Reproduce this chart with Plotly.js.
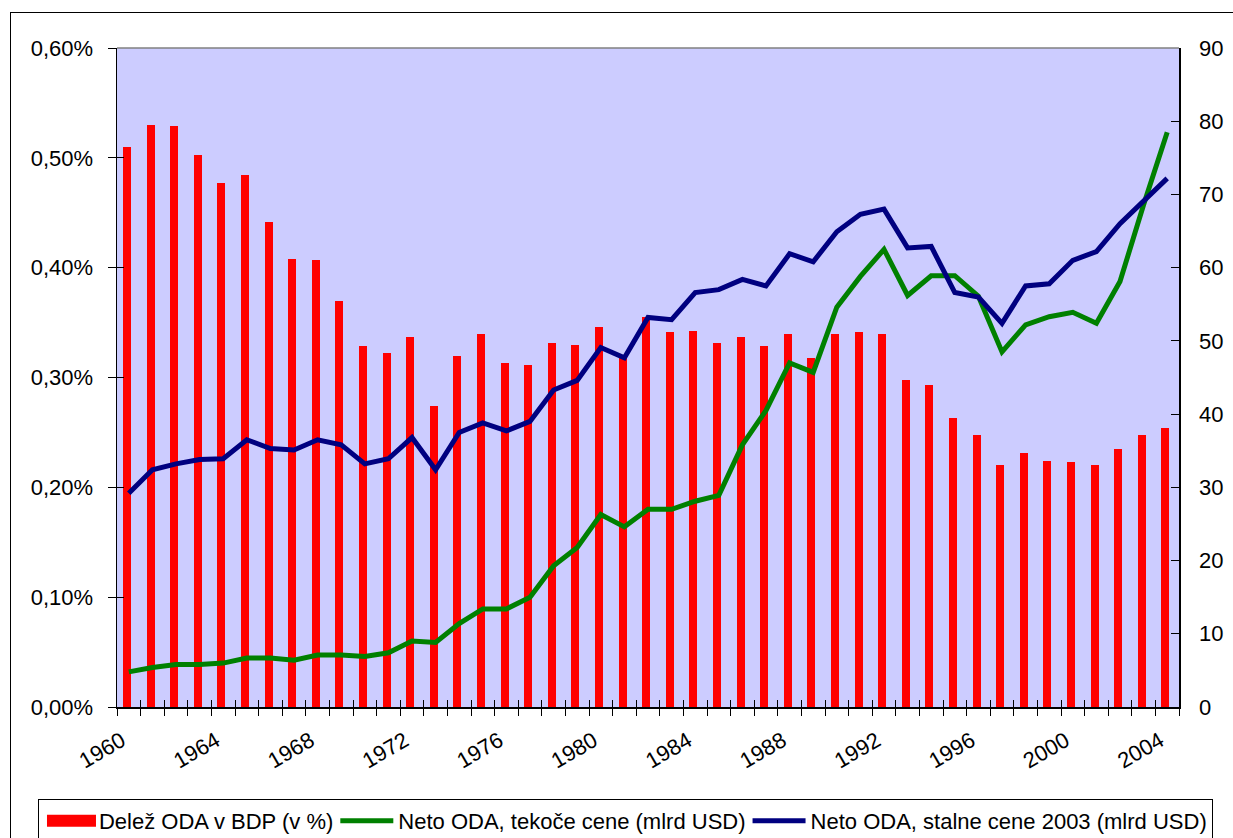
<!DOCTYPE html>
<html>
<head>
<meta charset="utf-8">
<script src="https://cdn.plot.ly/plotly-3.0.1.min.js"></script>
<style>
html,body{margin:0;padding:0;background:#fff;overflow:hidden;}
#chart{position:absolute;left:0;top:0;width:1233px;height:838px;}
#frame{position:absolute;left:10px;top:12px;width:1300px;height:900px;border:1px solid #000;pointer-events:none;}
</style>
</head>
<body>
<div id="chart"></div>
<div id="frame"></div>
<script>
const years = [1960,1961,1962,1963,1964,1965,1966,1967,1968,1969,1970,1971,1972,1973,1974,1975,1976,1977,1978,1979,1980,1981,1982,1983,1984,1985,1986,1987,1988,1989,1990,1991,1992,1993,1994,1995,1996,1997,1998,1999,2000,2001,2002,2003,2004];
// Delež ODA v BDP (v %)
const odaShare = [0.510,0.530,0.529,0.503,0.477,0.484,0.442,0.408,0.407,0.370,0.329,0.322,0.337,0.274,0.320,0.340,0.313,0.311,0.331,0.330,0.346,0.320,0.355,0.341,0.342,0.331,0.337,0.329,0.340,0.318,0.340,0.341,0.340,0.298,0.293,0.263,0.248,0.220,0.231,0.224,0.223,0.220,0.235,0.248,0.254];
// Neto ODA, tekoče cene (mlrd USD)
const odaCurrent = [4.8,5.4,5.8,5.8,6.0,6.7,6.7,6.4,7.1,7.1,6.9,7.4,9.0,8.8,11.4,13.4,13.4,15.0,19.3,21.8,26.3,24.6,27.0,27.0,28.1,28.9,35.8,40.5,47.0,45.7,54.6,58.8,62.5,56.2,58.9,58.9,56.1,48.5,52.2,53.3,53.9,52.4,58.1,68.6,78.5];
// Neto ODA, stalne cene 2003 (mlrd USD)
const odaConstant = [29.2,32.4,33.2,33.8,33.9,36.5,35.3,35.1,36.5,35.8,33.2,33.9,36.8,32.4,37.5,38.8,37.7,39.0,43.3,44.6,49.1,47.7,53.2,52.9,56.6,57.0,58.4,57.5,61.9,60.8,64.9,67.3,68.0,62.7,62.9,56.6,56.0,52.4,57.5,57.8,61.0,62.2,66.0,69.2,72.2];
const labelYears = years.filter((y,i)=>i%4===0);
const seriesNames = ['Delež ODA v BDP (v %)','Neto ODA, tekoče cene (mlrd USD)','Neto ODA, stalne cene 2003 (mlrd USD)'];

const FONT = 'Liberation Sans, Arial, sans-serif';
const xr = [years[0]-0.5, years[years.length-1]+0.5];
const LABEL_SHIFT = 0.3; // rotated labels end slightly left of the category centre

const traces = [
  {type:'bar', x:years, y:odaShare, name:seriesNames[0], marker:{color:'#FF0000', line:{width:0}},
   width:0.34, offset:-0.25, xaxis:'x', yaxis:'y'},
  {type:'scatter', mode:'lines', x:years, y:odaCurrent, name:seriesNames[1],
   line:{color:'#008000', width:5}, xaxis:'x', yaxis:'y2'},
  {type:'scatter', mode:'lines', x:years, y:odaConstant, name:seriesNames[2],
   line:{color:'#000080', width:5}, xaxis:'x', yaxis:'y2'},
  {type:'scatter', mode:'lines', x:[], y:[], showlegend:false, hoverinfo:'skip', xaxis:'x2', yaxis:'y3'}
];

const layout = {
  width:1233, height:838,
  margin:{l:117, r:54, t:48, b:131, autoexpand:false},
  paper_bgcolor:'rgba(0,0,0,0)',
  plot_bgcolor:'#CCCCFF',
  separators:', ',
  font:{family:FONT, size:22, color:'#000'},
  showlegend:true,
  bargap:0,
  xaxis:{type:'linear', range:xr, tickvals:labelYears.map(y=>y-LABEL_SHIFT), ticktext:labelYears.map(String),
    tickangle:-30, ticks:'', showgrid:false, zeroline:false, automargin:false,
    showline:true, linecolor:'#000', linewidth:1.5,
    tickfont:{family:FONT, size:22}, ticklabelstandoff:11,
    minor:{dtick:1, tick0:xr[0], ticks:'outside', ticklen:7, tickcolor:'#000', tickwidth:1, showgrid:false}},
  xaxis2:{type:'linear', range:xr, overlaying:'x', dtick:1, tick0:xr[0], ticks:'inside', ticklen:7,
    tickcolor:'#000', showticklabels:false, showgrid:false, zeroline:false, showline:false},
  yaxis:{range:[0,0.6], dtick:0.1, tickformat:'.2f', ticksuffix:'%', ticks:'outside', ticklen:8,
    tickcolor:'#000', showgrid:false, zeroline:false, showline:true, linecolor:'#000', linewidth:1.5,
    ticklabelstandoff:10, tickfont:{family:FONT, size:22}, automargin:false},
  yaxis3:{range:[0,0.6], overlaying:'y', dtick:0.1, ticks:'inside', ticklen:7, tickcolor:'#000',
    showticklabels:false, showgrid:false, zeroline:false, showline:false},
  yaxis2:{range:[0,90], dtick:10, overlaying:'y', side:'right', ticks:'inside', ticklen:8,
    tickcolor:'#000', showgrid:false, zeroline:false, showline:true, linecolor:'#000', linewidth:1.5,
    ticklabelstandoff:14, tickfont:{family:FONT, size:22}, automargin:false},
  shapes:[{type:'line', xref:'paper', yref:'paper', x0:0, x1:1, y0:1, y1:1, line:{color:'#808080', width:1.5}}],
  legend:{orientation:'h', x:-0.0744, y:-0.1396, xanchor:'left', yanchor:'top',
    bgcolor:'#fff', bordercolor:'#000', borderwidth:1, font:{family:FONT, size:22}, itemwidth:50,
    traceorder:'normal'}
};

Plotly.newPlot('chart', traces, layout, {staticPlot:true, displayModeBar:false}).then(function(gd){
  // widen legend swatches to look like the original
  gd.querySelectorAll('.legend .legendlines path').forEach(function(p){ p.setAttribute('d','M2,0h53'); });
  gd.querySelectorAll('.legend .legendpoints path').forEach(function(p){
    if (p.style.fill && p.style.fill.indexOf('255, 0, 0')>=0) {
      p.setAttribute('d','M-22,6H27V-6H-22Z');
    }
  });
});
</script>
</body>
</html>
